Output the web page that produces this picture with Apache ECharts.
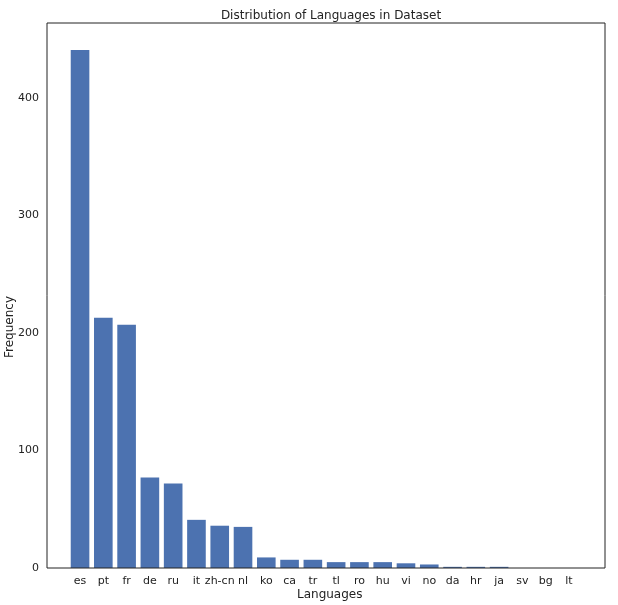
<!DOCTYPE html>
<html>
<head>
<meta charset="utf-8">
<script src="https://cdn.jsdelivr.net/npm/echarts@6/dist/echarts.min.js"></script>
<style>body{margin:0;background:#fff}#main{width:618px;height:605px}</style>
</head>
<body>
<div id="main"></div>
<script>
const languages = ['es', 'pt', 'fr', 'de', 'ru', 'it', 'zh-cn', 'nl', 'ko', 'ca', 'tr', 'tl', 'ro', 'hu', 'vi', 'no', 'da', 'hr', 'ja', 'sv', 'bg', 'lt']
const counts = [441, 213, 207, 77, 72, 41, 36, 35, 9, 7, 7, 5, 5, 5, 4, 3, 1, 1, 1, 0, 0, 0]
const yTicks = [0, 100, 200, 300, 400]

const chart = echarts.init(document.getElementById('main'))
const font = 'DejaVu Sans'
chart.setOption({
  animation: false,
  textStyle: { fontFamily: font },
  title: {
    text: 'Distribution of Languages in Dataset',
    left: 326, top: 5, textAlign: 'center',
    textStyle: { fontSize: 12, fontWeight: 'normal', color: '#222', fontFamily: font },
  },
  graphic: [
    { type: 'rect', shape: { x: 47, y: 23, width: 558, height: 545 }, style: { fill: 'none', stroke: '#222', lineWidth: 1 }, z: 10 },
    { type: 'text', left: 'center', top: 589, x: 0, style: { text: 'Languages', fontSize: 12, fill: '#222', fontFamily: font }, left: 297 },
    { type: 'text', x: 4, y: 327, rotation: Math.PI / 2, style: { text: 'Frequency', fontSize: 12, fill: '#222', fontFamily: font, align: 'center', verticalAlign: 'top' } },
  ],
  grid: { left: 68.4, right: 37.4, top: 23, bottom: 37 },
  xAxis: {
    type: 'category',
    data: languages,
    axisLine: { show: false },
    axisTick: { show: false },
    axisLabel: { color: '#222', fontSize: 11, margin: 8, interval: 0 },
  },
  yAxis: {
    type: 'value',
    min: 0, max: 464, interval: 100,
    offset: 21.4,
    splitLine: { show: false },
    axisLine: { show: false },
    axisTick: { show: false },
    axisLabel: {
      color: '#222', fontSize: 11, margin: 8,
      formatter: v => (yTicks.includes(v) ? String(v) : ''),
    },
  },
  series: [{
    type: 'bar',
    data: counts,
    barWidth: '80%',
    itemStyle: { color: '#4c72b0' },
  }],
})
</script>
</body>
</html>
